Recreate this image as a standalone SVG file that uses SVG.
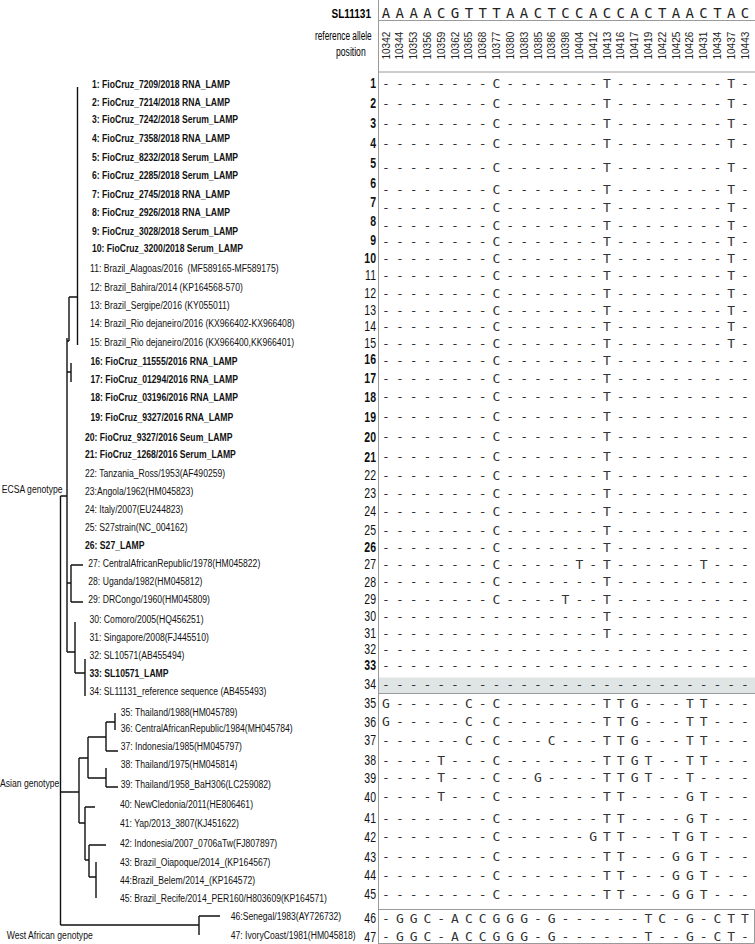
<svg xmlns="http://www.w3.org/2000/svg" width="755" height="944" viewBox="0 0 755 944">
<style>
.lbl{font-family:"Liberation Sans",Arial,sans-serif;font-size:11.5px;fill:#111}
.b{font-weight:bold}
.num{font-family:"Liberation Sans",Arial,sans-serif;font-size:14px;fill:#111;text-anchor:end}
.seq{font-family:"DejaVu Sans Mono",monospace;font-size:13px;fill:#333;letter-spacing:-0.922px}
.hdr{font-family:"DejaVu Sans Mono",monospace;font-size:14px;fill:#222;letter-spacing:-1.525px}
.pos{font-family:"Liberation Sans",Arial,sans-serif;font-size:10px;fill:#222}
.ln{stroke:#111;stroke-width:1.4;fill:none}
.grid{stroke:#9a9a9a;stroke-width:1;fill:none}
</style>
<rect width="755" height="944" fill="#fff"/>
<!-- table frame -->
<g id="table-frame">
<rect x="379" y="677.5" width="376" height="16" fill="#dfe4e4"/>
<path class="grid" d="M378.5 0V944M378.5 20.5H755M378.5 72H755M378.5 693.5H755M378.5 909.5H754.5V943.5H378.5"/>
</g>
<!-- header -->
<g id="header">
<text transform="translate(371,17.5) scale(0.77,1)" style="font-family:'Liberation Sans',Arial,sans-serif;font-size:13px;font-weight:bold;text-anchor:end">SL11131</text>
<text x="381.8" y="17.8" class="hdr">A A A A C G T T T A A C T C C A C C A C T A A C T A C</text>
<text x="315" y="39.5" textLength="56.7" lengthAdjust="spacingAndGlyphs" style="font-family:'Liberation Sans',Arial,sans-serif;font-size:12.5px">reference allele</text>
<text x="336" y="56" textLength="29.7" lengthAdjust="spacingAndGlyphs" style="font-family:'Liberation Sans',Arial,sans-serif;font-size:12.5px">position</text>
<g class="pos">
<text transform="translate(389.6,59.5) rotate(-90)">10342</text>
<text transform="translate(403.41,59.5) rotate(-90)">10344</text>
<text transform="translate(417.22,59.5) rotate(-90)">10353</text>
<text transform="translate(431.03,59.5) rotate(-90)">10356</text>
<text transform="translate(444.84,59.5) rotate(-90)">10359</text>
<text transform="translate(458.65,59.5) rotate(-90)">10362</text>
<text transform="translate(472.46,59.5) rotate(-90)">10365</text>
<text transform="translate(486.27,59.5) rotate(-90)">10368</text>
<text transform="translate(500.08,59.5) rotate(-90)">10377</text>
<text transform="translate(513.89,59.5) rotate(-90)">10380</text>
<text transform="translate(527.7,59.5) rotate(-90)">10383</text>
<text transform="translate(541.51,59.5) rotate(-90)">10385</text>
<text transform="translate(555.32,59.5) rotate(-90)">10386</text>
<text transform="translate(569.13,59.5) rotate(-90)">10398</text>
<text transform="translate(582.94,59.5) rotate(-90)">10404</text>
<text transform="translate(596.75,59.5) rotate(-90)">10412</text>
<text transform="translate(610.56,59.5) rotate(-90)">10413</text>
<text transform="translate(624.37,59.5) rotate(-90)">10416</text>
<text transform="translate(638.18,59.5) rotate(-90)">10417</text>
<text transform="translate(651.99,59.5) rotate(-90)">10419</text>
<text transform="translate(665.8,59.5) rotate(-90)">10422</text>
<text transform="translate(679.61,59.5) rotate(-90)">10425</text>
<text transform="translate(693.42,59.5) rotate(-90)">10426</text>
<text transform="translate(707.23,59.5) rotate(-90)">10431</text>
<text transform="translate(721.04,59.5) rotate(-90)">10434</text>
<text transform="translate(734.85,59.5) rotate(-90)">10437</text>
<text transform="translate(748.66,59.5) rotate(-90)">10443</text>
</g>
</g>
<!-- row numbers -->
<g id="row-numbers" transform="scale(0.75,1)">
<text class="num b" x="501.33" y="88.3">1</text>
<text class="num b" x="501.33" y="108.3">2</text>
<text class="num b" x="501.33" y="128">3</text>
<text class="num b" x="501.33" y="148">4</text>
<text class="num b" x="501.33" y="168.3">5</text>
<text class="num b" x="501.33" y="187.7">6</text>
<text class="num b" x="501.33" y="206.7">7</text>
<text class="num b" x="501.33" y="226">8</text>
<text class="num b" x="501.33" y="245">9</text>
<text class="num b" x="501.33" y="263.5">10</text>
<text class="num" x="501.33" y="280">11</text>
<text class="num" x="501.33" y="298">12</text>
<text class="num" x="501.33" y="315">13</text>
<text class="num" x="501.33" y="331.5">14</text>
<text class="num" x="501.33" y="348.3">15</text>
<text class="num b" x="501.33" y="364.5">16</text>
<text class="num b" x="501.33" y="383.3">17</text>
<text class="num b" x="501.33" y="402.5">18</text>
<text class="num b" x="501.33" y="422">19</text>
<text class="num b" x="501.33" y="442">20</text>
<text class="num b" x="501.33" y="462">21</text>
<text class="num" x="501.33" y="480.5">22</text>
<text class="num" x="501.33" y="498.3">23</text>
<text class="num" x="501.33" y="516.5">24</text>
<text class="num" x="501.33" y="535.5">25</text>
<text class="num b" x="501.33" y="552.3">26</text>
<text class="num" x="501.33" y="569">27</text>
<text class="num" x="501.33" y="586.7">28</text>
<text class="num" x="501.33" y="604">29</text>
<text class="num" x="501.33" y="621">30</text>
<text class="num" x="501.33" y="638.3">31</text>
<text class="num" x="501.33" y="654.3">32</text>
<text class="num b" x="501.33" y="670.5">33</text>
<text class="num" x="501.33" y="689">34</text>
<text class="num" x="501.33" y="708.3">35</text>
<text class="num" x="501.33" y="726.7">36</text>
<text class="num" x="501.33" y="745">37</text>
<text class="num" x="501.33" y="765">38</text>
<text class="num" x="501.33" y="782.7">39</text>
<text class="num" x="501.33" y="801.7">40</text>
<text class="num" x="501.33" y="823.3">41</text>
<text class="num" x="501.33" y="841.7">42</text>
<text class="num" x="501.33" y="861.7">43</text>
<text class="num" x="501.33" y="880">44</text>
<text class="num" x="501.33" y="899">45</text>
<text class="num" x="501.33" y="923.3">46</text>
<text class="num" x="501.33" y="941.7">47</text>
</g>
<!-- sequence rows -->
<g id="sequences" class="seq">
<text x="382.09" y="88">- - - - - - - - C - - - - - - - T - - - - - - - - T -</text>
<text x="382.09" y="108">- - - - - - - - C - - - - - - - T - - - - - - - - T -</text>
<text x="382.09" y="128">- - - - - - - - C - - - - - - - T - - - - - - - - T -</text>
<text x="382.09" y="148">- - - - - - - - C - - - - - - - T - - - - - - - - T -</text>
<text x="382.09" y="172.4">- - - - - - - - C - - - - - - - T - - - - - - - - T -</text>
<text x="382.09" y="194">- - - - - - - - C - - - - - - - T - - - - - - - - T -</text>
<text x="382.09" y="212.4">- - - - - - - - C - - - - - - - T - - - - - - - - T -</text>
<text x="382.09" y="229.7">- - - - - - - - C - - - - - - - T - - - - - - - - T -</text>
<text x="382.09" y="245.7">- - - - - - - - C - - - - - - - T - - - - - - - - T -</text>
<text x="382.09" y="263.2">- - - - - - - - C - - - - - - - T - - - - - - - - T -</text>
<text x="382.09" y="279.7">- - - - - - - - C - - - - - - - T - - - - - - - - T -</text>
<text x="382.09" y="297.7">- - - - - - - - C - - - - - - - T - - - - - - - - T -</text>
<text x="382.09" y="314.7">- - - - - - - - C - - - - - - - T - - - - - - - - T -</text>
<text x="382.09" y="331.2">- - - - - - - - C - - - - - - - T - - - - - - - - T -</text>
<text x="382.09" y="348">- - - - - - - - C - - - - - - - T - - - - - - - - T -</text>
<text x="382.09" y="365.4">- - - - - - - - C - - - - - - - T - - - - - - - - - -</text>
<text x="382.09" y="383">- - - - - - - - C - - - - - - - T - - - - - - - - - -</text>
<text x="382.09" y="401.4">- - - - - - - - C - - - - - - - T - - - - - - - - - -</text>
<text x="382.09" y="420.7">- - - - - - - - C - - - - - - - T - - - - - - - - - -</text>
<text x="382.09" y="440.7">- - - - - - - - C - - - - - - - T - - - - - - - - - -</text>
<text x="382.09" y="460.7">- - - - - - - - C - - - - - - - T - - - - - - - - - -</text>
<text x="382.09" y="479.7">- - - - - - - - C - - - - - - - T - - - - - - - - - -</text>
<text x="382.09" y="498">- - - - - - - - C - - - - - - - T - - - - - - - - - -</text>
<text x="382.09" y="516.4">- - - - - - - - C - - - - - - - T - - - - - - - - - -</text>
<text x="382.09" y="535.4">- - - - - - - - C - - - - - - - T - - - - - - - - - -</text>
<text x="382.09" y="552">- - - - - - - - C - - - - - - - T - - - - - - - - - -</text>
<text x="382.09" y="568.7">- - - - - - - - C - - - - - T - T - - - - - - T - - -</text>
<text x="382.09" y="586.4">- - - - - - - - C - - - - - - - T - - - - - - - - - -</text>
<text x="382.09" y="603.7">- - - - - - - - C - - - - T - - T - - - - - - - - - -</text>
<text x="382.09" y="620.7">- - - - - - - - - - - - - - - - T - - - - - - - - - -</text>
<text x="382.09" y="638">- - - - - - - - - - - - - - - - T - - - - - - - - - -</text>
<text x="382.09" y="654">- - - - - - - - - - - - - - - - - - - - - - - - - - -</text>
<text x="382.09" y="670.2">- - - - - - - - - - - - - - - - - - - - - - - - - - -</text>
<text x="382.09" y="688.7">- - - - - - - - - - - - - - - - - - - - - - - - - - -</text>
<text x="382.09" y="708">G - - - - - C - C - - - - - - - T T G - - - T T - - -</text>
<text x="382.09" y="726.4">G - - - - - C - C - - - - - - - T T G - - - T T - - -</text>
<text x="382.09" y="744.7">- - - - - - C - C - - - C - - - T T G - - - T T - - -</text>
<text x="382.09" y="764.7">- - - - T - - - C - - - - - - - T T G T - - T T - - -</text>
<text x="382.09" y="782.4">- - - - T - - - C - - G - - - - T T G T - - T - - - -</text>
<text x="382.09" y="801.4">- - - - T - - - C - - - - - - - T T - - - - G T - - -</text>
<text x="382.09" y="823">- - - - - - - - C - - - - - - - T T - - - - G T - - -</text>
<text x="382.09" y="841.4">- - - - - - - - C - - - - - - G T T - - - T G T - - -</text>
<text x="382.09" y="861.4">- - - - - - - - C - - - - - - - T T - - - G G T - - -</text>
<text x="382.09" y="879.7">- - - - - - - - C - - - - - - - T T - - - G G T - - -</text>
<text x="382.09" y="898.7">- - - - - - - - C - - - - - - - T T - - - G G T - - -</text>
<text x="382.09" y="923">- G G C - A C C G G G - G - - - - - - T C - G - C T T</text>
<text x="382.09" y="941.4">- G G C - A C C G G G - G - - - - - - T - - G - C T -</text>
</g>
<!-- tree connectors -->
<g id="tree" class="ln">
<path d="M77.5 87V345M69 297H77.5M69 297V341M67 341H69M67 338V652M67 372H71M71 363V382"/>
<path d="M60.5 496H67M67 583H71M71 565V602M71 565H83M71 602H83M67 652H75M75 622V673M75 673H85M85 659V696"/>
<path d="M60.5 496V925"/>
<path d="M60.5 792H79M79 758V823M79 758H88M88 737V778M88 737H106M106 722V751M106 722H115M115 713V730M106 751H118M88 778H106M106 768V787M106 787H118M79 823H85M85 807V860M85 807H95M85 860H89M89 845V877M89 845H106M89 877H96M96 862V898"/>
<path d="M60.5 925H199M199 916V935M199 916H220"/>
</g>
<!-- leaf labels -->
<g id="labels" class="lbl" transform="scale(0.75,1)">
<g id="leaf-1"><text class="b" x="122.67" y="88.4">1: FioCruz_7209/2018 RNA_LAMP</text></g>
<g id="leaf-2"><text class="b" x="122.67" y="105.8">2: FioCruz_7214/2018 RNA_LAMP</text></g>
<g id="leaf-3"><text class="b" x="122.67" y="123.4">3: FioCruz_7242/2018 Serum_LAMP</text></g>
<g id="leaf-4"><text class="b" x="122.67" y="142.4">4: FioCruz_7358/2018 RNA_LAMP</text></g>
<g id="leaf-5"><text class="b" x="122.67" y="160.8">5: FioCruz_8232/2018 Serum_LAMP</text></g>
<g id="leaf-6"><text class="b" x="122.67" y="179.1">6: FioCruz_2285/2018 Serum_LAMP</text></g>
<g id="leaf-7"><text class="b" x="122.67" y="198.1">7: FioCruz_2745/2018 RNA_LAMP</text></g>
<g id="leaf-8"><text class="b" x="122.67" y="216.4">8: FioCruz_2926/2018 RNA_LAMP</text></g>
<g id="leaf-9"><text class="b" x="122.67" y="234.8">9: FioCruz_3028/2018 Serum_LAMP</text></g>
<g id="leaf-10"><text class="b" x="122.67" y="252.4">10: FioCruz_3200/2018 Serum_LAMP</text></g>
<g id="leaf-11"><text x="120" y="272.4" xml:space="preserve">11: Brazil_Alagoas/2016  (MF589165-MF589175)</text></g>
<g id="leaf-12"><text x="120" y="290.8">12: Brazil_Bahira/2014 (KP164568-570)</text></g>
<g id="leaf-13"><text x="120" y="309.1">13: Brazil_Sergipe/2016 (KY055011)</text></g>
<g id="leaf-14"><text x="120" y="327.4">14: Brazil_Rio dejaneiro/2016 (KX966402-KX966408)</text></g>
<g id="leaf-15"><text x="120" y="345.8">15: Brazil_Rio dejaneiro/2016 (KX966400,KK966401)</text></g>
<g id="leaf-16"><text class="b" x="120.67" y="365.1">16: FioCruz_11555/2016 RNA_LAMP</text></g>
<g id="leaf-17"><text class="b" x="120.67" y="383.1">17: FioCruz_01294/2016 RNA_LAMP</text></g>
<g id="leaf-18"><text class="b" x="120.67" y="401.4">18: FioCruz_03196/2016 RNA_LAMP</text></g>
<g id="leaf-19"><text class="b" x="120.67" y="420.8">19: FioCruz_9327/2016 RNA_LAMP</text></g>
<g id="leaf-20"><text class="b" x="113.33" y="440.8">20: FioCruz_9327/2016 Seum_LAMP</text></g>
<g id="leaf-21"><text class="b" x="113.33" y="458.4">21: FioCruz_1268/2016 Serum_LAMP</text></g>
<g id="leaf-22"><text x="113.33" y="476.8">22: Tanzania_Ross/1953(AF490259)</text></g>
<g id="leaf-23"><text x="113.33" y="495.1">23:Angola/1962(HM045823)</text></g>
<g id="leaf-24"><text x="113.33" y="513.4">24: Italy/2007(EU244823)</text></g>
<g id="leaf-25"><text x="113.33" y="530.8">25: S27strain(NC_004162)</text></g>
<g id="leaf-26"><text class="b" x="113.33" y="549.1">26: S27_LAMP</text></g>
<g id="leaf-27"><text x="117.73" y="567.4">27: CentralAfricanRepublic/1978(HM045822)</text></g>
<g id="leaf-28"><text x="117.73" y="585.1">28: Uganda/1982(HM045812)</text></g>
<g id="leaf-29"><text x="117.73" y="603.1">29: DRCongo/1960(HM045809)</text></g>
<g id="leaf-30"><text x="119.33" y="623.1">30: Comoro/2005(HQ456251)</text></g>
<g id="leaf-31"><text x="119.33" y="640.8">31: Singapore/2008(FJ445510)</text></g>
<g id="leaf-32"><text x="119.33" y="659.1">32: SL10571(AB455494)</text></g>
<g id="leaf-33"><text class="b" x="119.33" y="677.4">33: SL10571_LAMP</text></g>
<g id="leaf-34"><text x="119.33" y="694.8">34: SL11131_reference sequence (AB455493)</text></g>
<g id="leaf-35"><text x="160.93" y="715.8">35: Thailand/1988(HM045789)</text></g>
<g id="leaf-36"><text x="160.93" y="732.4">36: CentralAfricanRepublic/1984(MH045784)</text></g>
<g id="leaf-37"><text x="160.93" y="749.8">37: Indonesia/1985(HM045797)</text></g>
<g id="leaf-38"><text x="160.93" y="768.1">38: Thailand/1975(HM045814)</text></g>
<g id="leaf-39"><text x="160.93" y="788.1">39: Thailand/1958_BaH306(LC259082)</text></g>
<g id="leaf-40"><text x="160" y="808.1">40: NewCledonia/2011(HE806461)</text></g>
<g id="leaf-41"><text x="160" y="827.4">41: Yap/2013_3807(KJ451622)</text></g>
<g id="leaf-42"><text x="160" y="846.8">42: Indonesia/2007_0706aTw(FJ807897)</text></g>
<g id="leaf-43"><text x="160" y="865.8">43: Brazil_Oiapoque/2014_(KP164567)</text></g>
<g id="leaf-44"><text x="160" y="884.1">44:Brazil_Belem/2014_(KP164572)</text></g>
<g id="leaf-45"><text x="160" y="902.4">45: Brazil_Recife/2014_PER160/H803609(KP164571)</text></g>
<g id="leaf-46"><text x="307.6" y="920.1">46:Senegal/1983(AY726732)</text></g>
<g id="leaf-47"><text x="307.6" y="939.1">47: IvoryCoast/1981(HM045818)</text></g>
<g id="genotype-labels">
<text x="2.27" y="493">ECSA genotype</text>
<text x="0" y="787.5">Asian genotype</text>
<text x="8.93" y="939">West African genotype</text>
</g>
</g>
</svg>
